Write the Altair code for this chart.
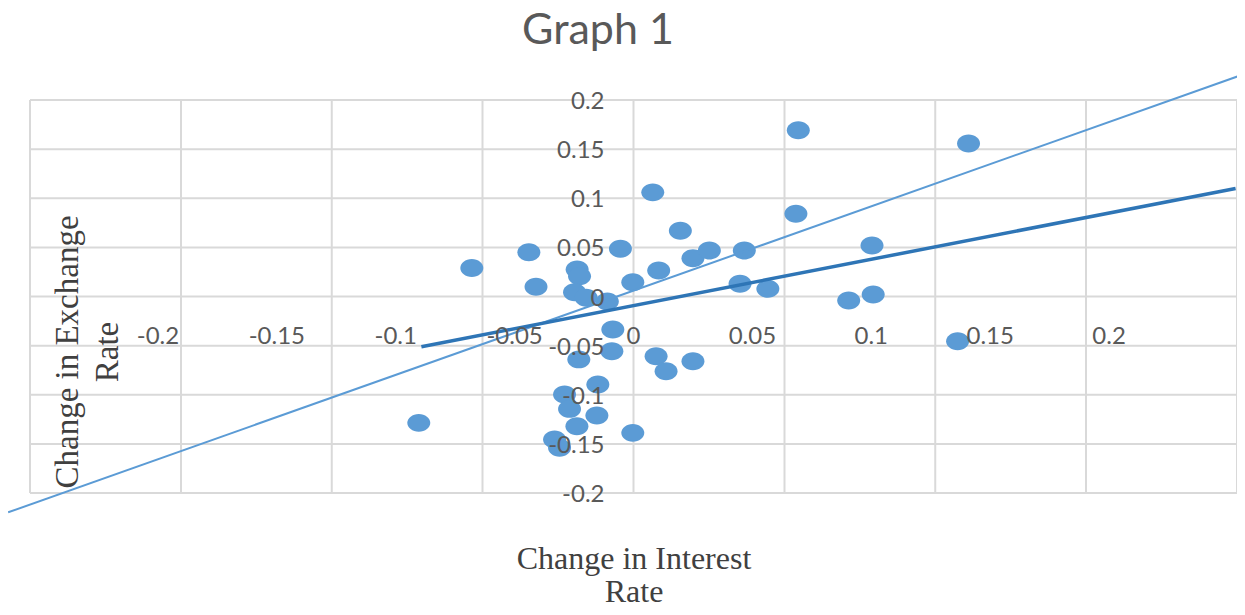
import altair as alt
import pandas as pd

# ---- data ----
interest_change = [0.0081, 0.0197, -0.0055, -0.044, -0.068, -0.041, -0.0237, -0.0227,
                   -0.0003, 0.0106, 0.025, -0.0248, -0.0199, -0.0110, -0.0087, -0.0091,
                   -0.023, -0.015, -0.029, -0.0269, -0.0154, -0.0238, -0.0003, -0.0332,
                   -0.0311, -0.0903, 0.0095, 0.0137, 0.025, 0.0693, 0.1409, 0.0683,
                   0.0319, 0.0466, 0.0448, 0.0565, 0.1003, 0.0905, 0.1008, 0.1363]
exchange_change = [0.106, 0.067, 0.0486, 0.045, 0.029, 0.0099, 0.0275, 0.0207,
                   0.0146, 0.0265, 0.039, 0.0044, -0.0013, -0.005, -0.0336, -0.0557,
                   -0.064, -0.0896, -0.0998, -0.1144, -0.1212, -0.132, -0.1388, -0.1456,
                   -0.154, -0.1286, -0.0608, -0.076, -0.0659, 0.1693, 0.1558, 0.0842,
                   0.0468, 0.0468, 0.0129, 0.0078, 0.0519, -0.004, 0.002, -0.0455]

fit_x = [-0.0892, 0.2532]
fit_y = [-0.0512, 0.110]
guide_x = [-0.263, 0.2613]
guide_y = [-0.2197, 0.2302]

x_ticks = [-0.2, -0.15, -0.1, -0.05, 0, 0.05, 0.1, 0.15, 0.2]
x_tick_labels = ["-0.2", "-0.15", "-0.1", "-0.05", "0", "0.05", "0.1", "0.15", "0.2"]
y_ticks = [0.2, 0.15, 0.1, 0.05, 0, -0.05, -0.1, -0.15, -0.2]
y_tick_labels = ["0.2", "0.15", "0.1", "0.05", "0", "-0.05", "-0.1", "-0.15", "-0.2"]
grid_x = [-0.2538, -0.1903, -0.1269, -0.0635, 0, 0.0635, 0.1269, 0.1903, 0.2538]
grid_y = [-0.2, -0.15, -0.1, -0.05, 0, 0.05, 0.1, 0.15, 0.2]

chart_title = "Graph 1"
x_title = ["Change in Interest", "Rate"]
y_title = ["Change in Exchange", "Rate"]

# ---- styles ----
GRID = "#D9D9D9"
PT = "#5B9BD5"
FIT = "#2E75B6"
LBL = "#595959"
ELLIPSE = "M-1,0A1,0.78,0,1,1,1,0A1,0.78,0,1,1,-1,0Z"

xs = alt.Scale(domain=[-0.2538, 0.2538], nice=False, zero=False)
ys = alt.Scale(domain=[-0.2, 0.2], nice=False, zero=False)

pts = pd.DataFrame({"x": interest_change, "y": exchange_change})
fit = pd.DataFrame({"x": fit_x, "y": fit_y})
guide = pd.DataFrame({"x": guide_x, "y": guide_y})
xl = pd.DataFrame({"x": x_ticks, "y": [0] * len(x_ticks), "t": x_tick_labels})
yl = pd.DataFrame({"y": y_ticks, "x": [0] * len(y_ticks), "t": y_tick_labels})
gx = pd.DataFrame({"x": grid_x})
gy = pd.DataFrame({"y": grid_y})


def X():
    return alt.X("x:Q", scale=xs, axis=None)


def Y():
    return alt.Y("y:Q", scale=ys, axis=None)


vgrid = alt.Chart(gx).mark_rule(color=GRID, strokeWidth=2).encode(x=X())
hgrid = alt.Chart(gy).mark_rule(color=GRID, strokeWidth=2).encode(y=Y())

points = alt.Chart(pts).mark_point(shape=ELLIPSE, filled=True, size=529,
                                   color=PT, opacity=1, strokeWidth=0).encode(x=X(), y=Y())

guide_line = alt.Chart(guide).mark_line(color=PT, strokeWidth=2, clip=False).encode(x=X(), y=Y())
fit_line = alt.Chart(fit).mark_line(color=FIT, strokeWidth=3.5, clip=False).encode(x=X(), y=Y())

xlab = alt.Chart(xl).mark_text(font="Lato", fontSize=24, color=LBL, align="center",
                               baseline="middle", dy=40).encode(x=X(), y=Y(), text="t:N")
ylab = alt.Chart(yl).mark_text(font="Lato", fontSize=24, color=LBL, align="right",
                               baseline="middle", dx=-29, dy=2).encode(x=X(), y=Y(), text="t:N")


def label(txt, px, py, size, font, color, angle=0):
    d = pd.DataFrame({"t": [txt]})
    kw = dict(font=font, fontSize=size, color=color, align="center", baseline="middle")
    if angle:
        kw["angle"] = angle
    return alt.Chart(d).mark_text(**kw).encode(
        x=alt.value(px), y=alt.value(py), text="t:N")


title = label(chart_title, 568, -69, 43, "Lato", LBL)
xt1 = label(x_title[0], 604, 459, 32, "Liberation Serif", "#404040")
xt2 = label(x_title[1], 604, 492, 32, "Liberation Serif", "#404040")
yt1 = label(y_title[0], 38, 252, 33, "Liberation Serif", "#404040", 270)
yt2 = label(y_title[1], 78, 252, 33, "Liberation Serif", "#404040", 270)

chart = alt.layer(vgrid, hgrid, points, guide_line, fit_line, xlab, ylab,
                  title, xt1, xt2, yt1, yt2).properties(
    width=1207, height=393,
    padding={"left": 22, "top": 92, "right": 0, "bottom": 114},
    autosize=alt.AutoSizeParams(type="none"),
).configure_view(stroke=None)

chart.save("out.html", embed_options={"renderer": "svg", "actions": False})
